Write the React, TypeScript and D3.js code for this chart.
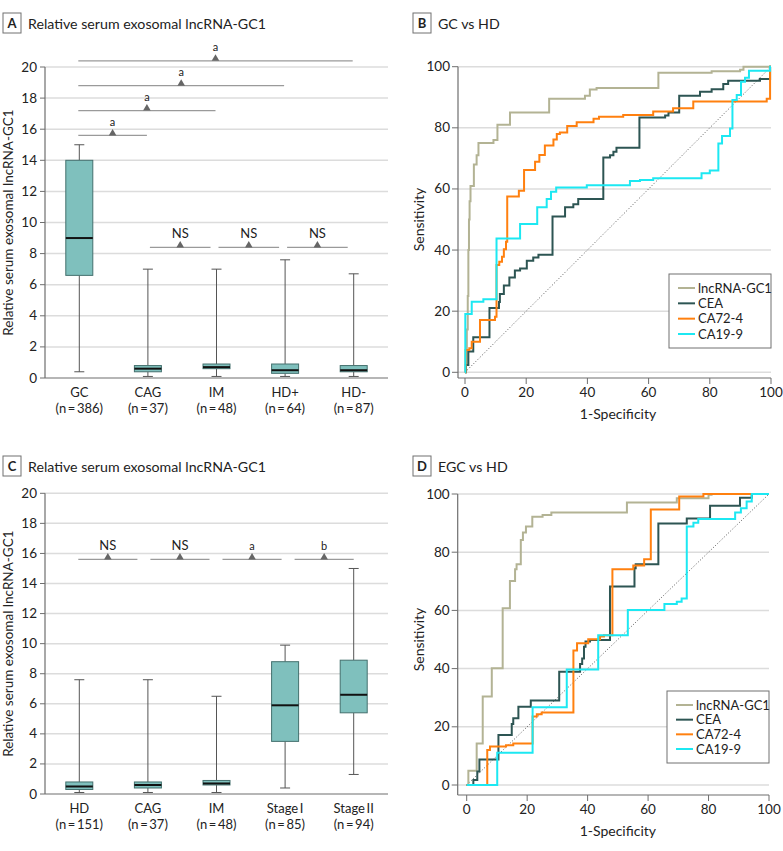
import React from "react";
import * as d3 from "d3";

const FONT = "Lato, 'Open Sans', sans-serif";

// ---------- Panel A data ----------
const catsA = ["GC", "CAG", "IM", "HD+", "HD-"];
const countsA = ["(n\u2009=\u2009386)", "(n\u2009=\u200937)", "(n\u2009=\u200948)", "(n\u2009=\u200964)", "(n\u2009=\u200987)"];
const minA = [0.4, 0.1, 0.1, 0.1, 0.1];
const q1A = [6.6, 0.4, 0.6, 0.3, 0.4];
const medA = [9.0, 0.6, 0.7, 0.5, 0.5];
const q3A = [14.0, 0.8, 0.9, 0.9, 0.8];
const maxA = [15.0, 7.0, 7.0, 7.6, 6.7];
const sigFromA = [0, 0, 0, 0, 1, 2, 3];
const sigToA = [1, 2, 3, 4, 2, 3, 4];
const sigYA = [15.6, 17.2, 18.8, 20.4, 8.4, 8.4, 8.4];
const sigLabelA = ["a", "a", "a", "a", "NS", "NS", "NS"];

// ---------- Panel C data ----------
const catsC = ["HD", "CAG", "IM", "Stage\u2009I", "Stage\u2009II"];
const countsC = ["(n\u2009=\u2009151)", "(n\u2009=\u200937)", "(n\u2009=\u200948)", "(n\u2009=\u200985)", "(n\u2009=\u200994)"];
const minC = [0.1, 0.1, 0.1, 0.4, 1.3];
const q1C = [0.3, 0.4, 0.6, 3.5, 5.4];
const medC = [0.5, 0.6, 0.7, 5.9, 6.6];
const q3C = [0.8, 0.8, 0.9, 8.8, 8.9];
const maxC = [7.6, 7.6, 6.5, 9.9, 15.0];
const sigFromC = [0, 1, 2, 3];
const sigToC = [1, 2, 3, 4];
const sigYC = [15.6, 15.6, 15.6, 15.6];
const sigLabelC = ["NS", "NS", "a", "b"];

const yTicksBox = [0, 2, 4, 6, 8, 10, 12, 14, 16, 18, 20];

// ---------- ROC data ----------
const markerNames = ["lncRNA-GC1", "CEA", "CA72-4", "CA19-9"];
const markerColors = ["#b3b394", "#2d5553", "#ff800f", "#1ce8f2"];
const rocTicks = [0, 20, 40, 60, 80, 100];

// Panel B: GC vs HD  [1-specificity, sensitivity]
const rocB_lnc: [number, number][] = [
  [0, 0], [0.3, 3], [0.6, 14], [0.9, 25], [1.1, 40], [1.3, 50], [1.5, 56], [1.8, 61], [2.9, 68], [3.8, 71], [4.4, 75],
  [9.3, 76], [10.6, 81], [14.7, 85], [27.5, 89.5], [39.2, 90.5], [40.8, 92.5], [43, 93], [63.2, 98], [80.6, 98.5],
  [89.9, 99], [91, 100], [100, 100],
];
const rocB_cea: [number, number][] = [
  [0, 0], [0.3, 2.4], [1.1, 6.8], [2.7, 11.5], [8, 21], [11.1, 23], [11.4, 25.6], [12.7, 28.4], [14.5, 31], [16.3, 33.3],
  [18, 34], [20.2, 36.5], [22.3, 37.6], [24, 38.5], [28.6, 51], [32.7, 54], [35.4, 55], [37, 56.7], [45.2, 70.3],
  [47.4, 71], [48.5, 72.2], [49.5, 73.5], [57, 83.4], [65.4, 84], [66.5, 85], [70, 90.5], [76.8, 91.8], [80.6, 92.6],
  [84.4, 94.3], [86, 95.4], [96.4, 96], [99.7, 100], [100, 100],
];
const rocB_ca724: [number, number][] = [
  [0, 0], [0.2, 7.3], [1.4, 7.9], [2.2, 10], [4.9, 17.1], [9.8, 18.2], [10.3, 35.1], [11.2, 36.2], [12.1, 37.8],
  [12.7, 40.3], [13.4, 42.7], [13.8, 57.5], [17.6, 59.4], [19.3, 66.2], [22.9, 68.9], [24.3, 71.1], [26.1, 74.2],
  [28.9, 76.2], [30, 78], [31, 78.5], [33.4, 80.6], [36.5, 81.8], [42, 83], [43.8, 83.6], [51.7, 84.2], [61.5, 85.3],
  [68, 86.4], [74.6, 88.6], [98.6, 89.5], [99.7, 100], [100, 100],
];
const rocB_ca199: [number, number][] = [
  [0, 0], [0.1, 19.1], [2.2, 23.1], [6, 23.9], [10.3, 43.8], [18, 48.5], [23.6, 54], [26.7, 56.7], [28.1, 59.1],
  [29.8, 60.5], [39.8, 61.2], [53.9, 62.6], [57.2, 62.9], [61.5, 63.5], [77.3, 65.1], [80, 66], [82.8, 74.9],
  [84, 77.3], [86.6, 79.8], [87.4, 89.1], [88.8, 90.7], [90.2, 95.1], [91.5, 96.4], [92.8, 98.7], [99.7, 100], [100, 100],
];

// Panel D: EGC vs HD
const rocD_lnc: [number, number][] = [
  [0, 0], [0.55, 4.9], [3.3, 14.3], [5.3, 30.4], [8.3, 40.1], [11.9, 60.7], [14.3, 70.1], [16, 74.1], [16.5, 75.9],
  [17.9, 84.2], [18.6, 86.8], [19.6, 88.8], [21.7, 92.2], [25.1, 92.8], [28, 93.6], [53, 97.1], [69.5, 98.5],
  [80, 99.7], [81, 100], [100, 100],
];
const rocD_cea: [number, number][] = [
  [0, 0], [2.2, 1.7], [3.5, 4.6], [4.2, 8.8], [10.5, 17.2], [14.9, 21], [15.4, 22.9], [17.1, 26.9], [21.2, 29],
  [30.6, 38.9], [37.5, 41.6], [38.2, 43.5], [38.8, 47.5], [39.3, 49.3], [40.8, 49.8], [47.4, 68.2], [55.5, 74.5],
  [55.9, 75.9], [63.4, 89.9], [72.8, 91.6], [80.5, 96], [90.4, 98.7], [94.3, 100], [100, 100],
];
const rocD_ca724: [number, number][] = [
  [0, 0], [6.8, 12], [7.7, 13.2], [13, 13.7], [15.4, 14.3], [21.8, 23.5], [23.2, 24.3], [24.8, 24.9], [35.3, 46.2],
  [36.5, 48.7], [40.2, 50.1], [44.1, 51], [45.4, 51.5], [48.2, 74.1], [55.1, 75.4], [58.7, 77.6], [60.9, 94.7],
  [70.3, 99.1], [78.3, 100], [100, 100],
];
const rocD_ca199: [number, number][] = [
  [0, 0], [10.1, 11.1], [21.8, 26.7], [33.1, 39.7], [43.5, 51.5], [53.3, 60.1], [65.4, 62.2], [69.5, 63],
  [71.1, 64.1], [72.8, 88.8], [75, 90.1], [76.6, 91.4], [88.8, 93.6], [90.7, 95.1], [92.6, 97.4], [94.3, 100], [100, 100],
];

const GRID = "#dcdcdc";
const AXIS = "#6e6e6e";

function PanelTitle({ x, y, letter, text }: { x: number; y: number; letter: string; text: string }) {
  return (
    <g>
      <rect x={x} y={y} width={18} height={20} fill="white" stroke="#707070" strokeWidth={1} />
      <text x={x + 9} y={y + 15} textAnchor="middle" fontSize={13} fontWeight="bold" fill="#222">{letter}</text>
      <text x={x + 25} y={y + 16} fontSize={14.2} fill="#222">{text}</text>
    </g>
  );
}

type BoxProps = {
  letter: string; title: string; titleY: number;
  cats: string[]; counts: string[];
  mins: number[]; q1s: number[]; meds: number[]; q3s: number[]; maxs: number[];
  sigFrom: number[]; sigTo: number[]; sigY: number[]; sigLabel: string[];
  yTop: number; yBottom: number; evenBrackets: boolean;
};

function BoxPanel(p: BoxProps) {
  const left = 45, right = 388;
  const x = d3.scaleBand<string>().domain(p.cats).range([left, right]);
  const y = d3.scaleLinear().domain([0, 20]).range([p.yBottom, p.yTop]);
  const cx = (i: number) => (x(p.cats[i]) as number) + x.bandwidth() / 2;
  const bw = 27, cap = 10;
  const nSeg = p.sigFrom.length;
  const evenStart = cx(0) - 1, evenEnd = cx(p.cats.length - 1), gap = 13;
  const segLen = (evenEnd - evenStart - gap * (nSeg - 1)) / nSeg;
  return (
    <g>
      <PanelTitle x={3} y={p.titleY} letter={p.letter} text={p.title} />
      {yTicksBox.map((t) => (
        <g key={t}>
          {t > 0 && <line x1={left} x2={right} y1={y(t)} y2={y(t)} stroke={GRID} strokeWidth={1.5} />}
          <line x1={left - 5} x2={left} y1={y(t)} y2={y(t)} stroke={AXIS} strokeWidth={1} />
          <text x={left - 8} y={y(t) + 4.5} textAnchor="end" fontSize={13.5} fill="#222">{t}</text>
        </g>
      ))}
      <line x1={left} x2={left} y1={y(20)} y2={y(0)} stroke={AXIS} strokeWidth={1.2} />
      <line x1={left} x2={right} y1={y(0)} y2={y(0)} stroke={AXIS} strokeWidth={1.2} />
      <text transform={`translate(13,${(y(0) + y(20)) / 2}) rotate(-90)`} textAnchor="middle" fontSize={13.5} fill="#222">
        Relative serum exosomal lncRNA-GC1
      </text>
      {p.cats.map((c, i) => (
        <g key={c}>
          <line x1={cx(i)} x2={cx(i)} y1={y(p.maxs[i])} y2={y(p.q3s[i])} stroke="#555" strokeWidth={1} />
          <line x1={cx(i)} x2={cx(i)} y1={y(p.q1s[i])} y2={y(p.mins[i])} stroke="#555" strokeWidth={1} />
          <line x1={cx(i) - cap / 2} x2={cx(i) + cap / 2} y1={y(p.maxs[i])} y2={y(p.maxs[i])} stroke="#555" strokeWidth={1} />
          <line x1={cx(i) - cap / 2} x2={cx(i) + cap / 2} y1={y(p.mins[i])} y2={y(p.mins[i])} stroke="#555" strokeWidth={1} />
          <rect x={cx(i) - bw / 2} width={bw} y={y(p.q3s[i])} height={y(p.q1s[i]) - y(p.q3s[i])}
            fill="#7fc0bd" stroke="#44706e" strokeWidth={1} />
          <line x1={cx(i) - bw / 2} x2={cx(i) + bw / 2} y1={y(p.meds[i])} y2={y(p.meds[i])} stroke="#111" strokeWidth={2} />
          <text x={cx(i)} y={p.yBottom + 19} textAnchor="middle" fontSize={13} fill="#222">{c}</text>
          <text x={cx(i)} y={p.yBottom + 35} textAnchor="middle" fontSize={13} fill="#222">{p.counts[i]}</text>
        </g>
      ))}
      {p.sigFrom.map((f, k) => {
        const t = p.sigTo[k];
        let x1: number, x2: number;
        if (p.evenBrackets) {
          x1 = evenStart + k * (segLen + gap);
          x2 = x1 + segLen;
        } else if (f === 0) {
          x1 = cx(f) - 1; x2 = cx(t) - 1;
        } else {
          x1 = cx(f) + 2; x2 = cx(t) - 6;
        }
        const ly = y(p.sigY[k]);
        const mx = (x1 + x2) / 2;
        const lab = p.sigLabel[k];
        return (
          <g key={k}>
            <line x1={x1} x2={x2} y1={ly} y2={ly} stroke="#9a9a9a" strokeWidth={1.2} />
            <path d={`M${mx - 3.8},${ly} L${mx + 3.8},${ly} L${mx},${ly - 6.5} Z`} fill="#666" />
            <text x={mx} y={ly - 9.5} textAnchor="middle" fontSize={lab === "NS" ? 13 : 11} fill="#222">{lab}</text>
          </g>
        );
      })}
    </g>
  );
}

type RocProps = {
  letter: string; title: string; titleY: number;
  series: [number, number][][];
  x0: number; x100: number; y0: number; y100: number;
  axisLeft: number; axisBottom: number;
  legX: number; legY: number; legW: number; legH: number;
};

function RocPanel(p: RocProps) {
  const x = d3.scaleLinear().domain([0, 100]).range([p.x0, p.x100]);
  const y = d3.scaleLinear().domain([0, 100]).range([p.y0, p.y100]);
  const line = d3.line<[number, number]>().x((d) => x(d[0])).y((d) => y(d[1])).curve(d3.curveStepAfter);
  const legStep = (p.legH - 28) / 3;
  return (
    <g>
      <PanelTitle x={413} y={p.titleY} letter={p.letter} text={p.title} />
      {rocTicks.map((t) => (
        <g key={t}>
          <line x1={p.axisLeft} x2={x(100)} y1={y(t)} y2={y(t)} stroke={GRID} strokeWidth={1.5} />
          <line x1={p.axisLeft - 6} x2={p.axisLeft} y1={y(t)} y2={y(t)} stroke={AXIS} strokeWidth={1} />
          <text x={p.axisLeft - 8} y={y(t) + 4.5} textAnchor="end" fontSize={13.5} fill="#222">{t}</text>
          <line x1={x(t)} x2={x(t)} y1={p.axisBottom} y2={p.axisBottom + 6} stroke={AXIS} strokeWidth={1} />
          <text x={x(t)} y={p.axisBottom + 19} textAnchor="middle" fontSize={13.5} fill="#222">{t}</text>
        </g>
      ))}
      <line x1={p.axisLeft} x2={p.axisLeft} y1={y(100)} y2={p.axisBottom} stroke={AXIS} strokeWidth={1.2} />
      <line x1={p.axisLeft} x2={x(100)} y1={p.axisBottom} y2={p.axisBottom} stroke={AXIS} strokeWidth={1.2} />
      <text transform={`translate(${p.axisLeft - 34},${(y(0) + y(100)) / 2}) rotate(-90)`} textAnchor="middle" fontSize={14} fill="#222">
        Sensitivity
      </text>
      <text x={(x(0) + x(100)) / 2} y={p.axisBottom + 41} textAnchor="middle" fontSize={14} fill="#222">1-Specificity</text>
      <line x1={x(0)} y1={y(0)} x2={x(100)} y2={y(100)} stroke="#555" strokeWidth={1} strokeDasharray="1,2" />
      {p.series.map((s, i) => (
        <path key={i} d={line(s) as string} fill="none" stroke={markerColors[i]} strokeWidth={2} />
      ))}
      <rect x={p.legX} y={p.legY} width={p.legW} height={p.legH} fill="white" stroke="#707070" strokeWidth={1} />
      {markerNames.map((n, i) => {
        const ly = p.legY + 14 + i * legStep;
        return (
          <g key={n}>
            <line x1={p.legX + 9} x2={p.legX + 26} y1={ly} y2={ly} stroke={markerColors[i]} strokeWidth={2} />
            <text x={p.legX + 29} y={ly + 4.5} fontSize={13} fill="#222">{n}</text>
          </g>
        );
      })}
    </g>
  );
}

export default function App() {
  return (
    <svg width={783} height={851} style={{ position: "absolute", left: 0, top: 0, fontFamily: FONT, background: "white" }}>
      <rect width={783} height={851} fill="white" />
      <BoxPanel letter="A" title="Relative serum exosomal lncRNA-GC1" titleY={13}
        cats={catsA} counts={countsA} mins={minA} q1s={q1A} meds={medA} q3s={q3A} maxs={maxA}
        sigFrom={sigFromA} sigTo={sigToA} sigY={sigYA} sigLabel={sigLabelA}
        yTop={67} yBottom={378} evenBrackets={false} />
      <BoxPanel letter="C" title="Relative serum exosomal lncRNA-GC1" titleY={456}
        cats={catsC} counts={countsC} mins={minC} q1s={q1C} meds={medC} q3s={q3C} maxs={maxC}
        sigFrom={sigFromC} sigTo={sigToC} sigY={sigYC} sigLabel={sigLabelC}
        yTop={493.3} yBottom={794} evenBrackets={true} />
      <RocPanel letter="B" title="GC vs HD" titleY={13}
        series={[rocB_lnc, rocB_cea, rocB_ca724, rocB_ca199]}
        x0={465} x100={771} y0={372.3} y100={66.7} axisLeft={458} axisBottom={378}
        legX={669} legY={274} legW={102} legH={74} />
      <RocPanel letter="D" title="EGC vs HD" titleY={456}
        series={[rocD_lnc, rocD_cea, rocD_ca724, rocD_ca199]}
        x0={466.7} x100={769} y0={785} y100={494} axisLeft={457.7} axisBottom={795}
        legX={667} legY={691} legW={102} legH={72} />
    </svg>
  );
}
